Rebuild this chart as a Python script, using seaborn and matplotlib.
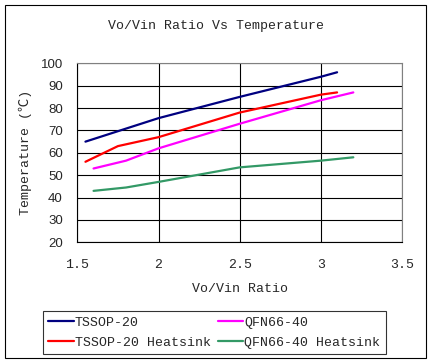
import pandas as pd
import matplotlib
matplotlib.use('Agg')
import matplotlib.pyplot as plt
import seaborn as sns
from matplotlib.patches import Rectangle

# Datos
tssop_x = [1.55, 2.0, 2.5, 3.0, 3.1]
tssop_y = [65, 75.5, 85, 94, 96]
tssop_hs_x = [1.55, 1.75, 2.0, 2.25, 2.5, 3.0, 3.1]
tssop_hs_y = [56, 63, 67, 72.5, 78, 86, 87]
qfn_x = [1.6, 1.8, 2.0, 2.5, 3.0, 3.2]
qfn_y = [53, 56.5, 62, 73, 83.5, 87]
qfn_hs_x = [1.6, 1.8, 2.0, 2.5, 3.0, 3.2]
qfn_hs_y = [43, 44.5, 47, 53.5, 56.5, 58]

series = ['TSSOP-20', 'TSSOP-20 Heatsink', 'QFN66-40', 'QFN66-40 Heatsink']
colores = ['#000080', '#FF0000', '#FF00FF', '#339966']
xticks = [1.5, 2, 2.5, 3, 3.5]
xtick_labels = ['1.5', '2', '2.5', '3', '3.5']
yticks = [20, 30, 40, 50, 60, 70, 80, 90, 100]

frames = []
for nombre, xs, ys in zip(series,
                          [tssop_x, tssop_hs_x, qfn_x, qfn_hs_x],
                          [tssop_y, tssop_hs_y, qfn_y, qfn_hs_y]):
    frames.append(pd.DataFrame({'ratio': xs, 'temp': ys, 'serie': nombre}))
data = pd.concat(frames, ignore_index=True)

sns.set_style('white')
mono = ['Liberation Mono', 'Noto Sans CJK SC']
plt.rcParams['font.family'] = mono

fig = plt.figure(figsize=(4.32, 3.64), dpi=100)
ax = fig.add_axes([0.179, 0.3343, 0.7516, 0.4917])

sns.lineplot(data=data, x='ratio', y='temp', hue='serie', hue_order=series,
             palette=colores, linewidth=1.6, sort=False, estimator=None, ax=ax)

ax.set_xlim(1.5, 3.5)
ax.set_ylim(20, 100)
ax.set_xticks(xticks)
ax.set_xticklabels(xtick_labels, fontfamily=mono, fontsize=9.5)
ax.set_yticks(yticks)
ax.set_yticklabels([str(v) for v in yticks], fontfamily='Liberation Sans', fontsize=9.5)
ax.tick_params(axis='x', length=0, pad=12)
ax.tick_params(axis='y', length=2.5, width=0.8, color='black', direction='out', pad=8)
ax.grid(True, color='black', linewidth=0.8)

for lado in ['left', 'bottom']:
    ax.spines[lado].set_color('black')
    ax.spines[lado].set_linewidth(0.8)
for lado in ['top', 'right']:
    ax.spines[lado].set_color('#808080')
    ax.spines[lado].set_linewidth(0.8)

ax.set_xlabel('Vo/Vin Ratio', fontsize=9.5, labelpad=9)
ax.set_ylabel('Temperature (℃)', fontsize=9.5, labelpad=6)
fig.text(0.5, 0.928, 'Vo/Vin Ratio Vs Temperature', ha='center', va='center', fontsize=9.5)

ax.legend_.remove()
handles, labels = ax.get_legend_handles_labels()
leg = fig.legend(handles, labels, loc='lower left', ncol=2,
                 bbox_to_anchor=(0.1, 0.0266, 0.793, 0.12), mode='expand',
                 frameon=True, fancybox=False, edgecolor='black', fontsize=9.5,
                 handlelength=1.9, handletextpad=0.1, columnspacing=0.2,
                 labelspacing=0.6, borderaxespad=0, borderpad=0.4)
leg.get_frame().set_linewidth(0.8)

fig.patches.append(Rectangle((5 / 432, 1 - 358 / 364), 421 / 432, 353 / 364,
                             transform=fig.transFigure, fill=False,
                             edgecolor='black', linewidth=0.8))

plt.savefig('out.png', dpi=100)
